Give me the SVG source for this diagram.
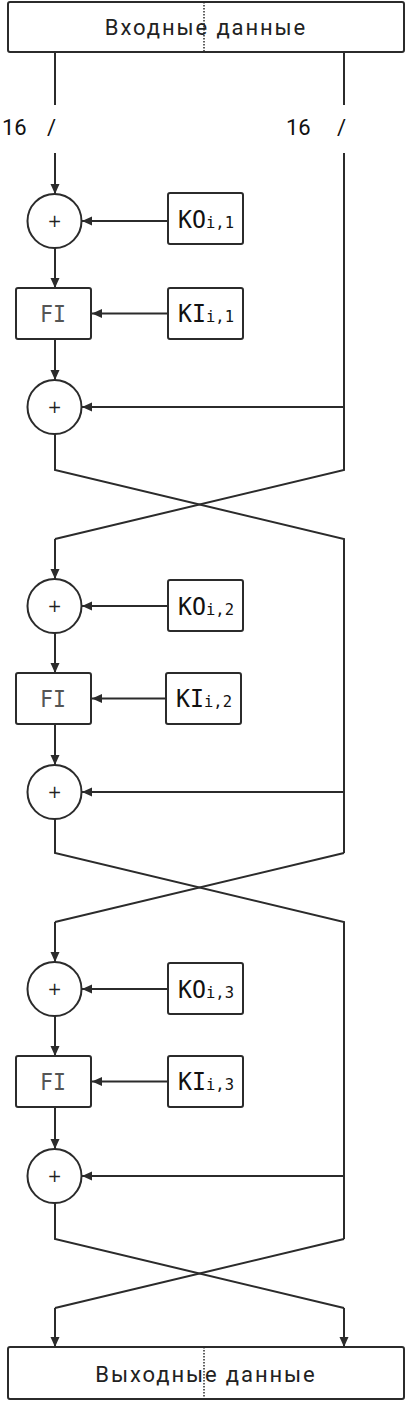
<svg xmlns="http://www.w3.org/2000/svg" width="405" height="1401" viewBox="0 0 405 1401">
<style>
.box{fill:#fff;stroke:#2b2b2b;stroke-width:2}
.circ{fill:#fff;stroke:#2b2b2b;stroke-width:2}
.ln{fill:none;stroke:#2b2b2b;stroke-width:2}
.arr{fill:none;stroke:#2b2b2b;stroke-width:2;marker-end:url(#ah)}
.dot{stroke:#2b2b2b;stroke-width:1.5;stroke-dasharray:1.5 1.5}
.big{font-family:"Roboto","Liberation Sans",sans-serif;font-size:22px;fill:#222;letter-spacing:1.9px}
.num{font-family:"Roboto","Liberation Sans",sans-serif;font-size:22px;fill:#111}
.key{font-family:"DejaVu Sans Mono","Liberation Mono",monospace;font-size:24px;fill:#111}
.sub{font-size:16px}
.fi{font-family:"DejaVu Sans Mono","Liberation Mono",monospace;font-size:23px;fill:#555}
.plus{font-family:"DejaVu Sans","Liberation Sans",sans-serif;font-size:17px;fill:#222}
</style>
<defs>
<marker id="ah" markerWidth="11" markerHeight="10" refX="10" refY="5" orient="auto" markerUnits="userSpaceOnUse">
<path d="M0,0.5 L10,5 L0,9.5 z" fill="#2b2b2b"/>
</marker>
</defs>

<g id="connectors">
<line class="ln" x1="55" y1="52" x2="55" y2="105"/>
<line class="ln" x1="344" y1="52" x2="344" y2="105"/>
<line class="arr" x1="55" y1="153" x2="55" y2="194"/>
<line class="arr" x1="168" y1="221" x2="82" y2="221"/>
<line class="arr" x1="55" y1="248" x2="55" y2="288"/>
<line class="arr" x1="168" y1="313.5" x2="92" y2="313.5"/>
<line class="arr" x1="55" y1="339" x2="55" y2="380"/>
<line class="arr" x1="344" y1="407" x2="82" y2="407"/>
<polyline class="ln" points="344,153 344,470 55,539"/>
<polyline class="ln" points="55,434 55,470 344,539 344,853"/>
<line class="arr" x1="55" y1="539" x2="55" y2="579"/>
<line class="arr" x1="168" y1="606" x2="82" y2="606"/>
<line class="arr" x1="55" y1="633" x2="55" y2="673"/>
<line class="arr" x1="166" y1="698.5" x2="92" y2="698.5"/>
<line class="arr" x1="55" y1="724" x2="55" y2="765"/>
<line class="arr" x1="344" y1="792" x2="82" y2="792"/>
<polyline class="ln" points="344,853 55,922"/>
<polyline class="ln" points="55,819 55,853 344,922 344,1239"/>
<line class="arr" x1="55" y1="922" x2="55" y2="962"/>
<line class="arr" x1="168" y1="989" x2="82" y2="989"/>
<line class="arr" x1="55" y1="1016" x2="55" y2="1056"/>
<line class="arr" x1="168" y1="1081.5" x2="92" y2="1081.5"/>
<line class="arr" x1="55" y1="1107" x2="55" y2="1149"/>
<line class="arr" x1="344" y1="1176" x2="82" y2="1176"/>
<polyline class="ln" points="344,1239 55,1308"/>
<polyline class="ln" points="55,1203 55,1239 344,1308"/>
<line class="arr" x1="55" y1="1308" x2="55" y2="1347"/>
<line class="arr" x1="344" y1="1308" x2="344" y2="1347"/>
</g>

<g id="input">
<rect class="box" x="8" y="2" width="396" height="50" rx="2"/>
<text class="big" x="206" y="35" text-anchor="middle">Входные данные</text>
<line class="dot" x1="204" y1="2" x2="204" y2="52"/>
</g>

<g id="width-left">
<text class="num" x="2" y="135">16<tspan x="47">/</tspan></text>
</g>
<g id="width-right">
<text class="num" x="286" y="135">16<tspan x="337">/</tspan></text>
</g>

<g id="xor1a"><circle class="circ" cx="54.5" cy="221" r="27"/><text class="plus" x="54.5" y="227" text-anchor="middle">+</text></g>
<g id="ko1"><rect class="box" x="168" y="193" width="75" height="51" rx="2"/><text class="key" x="178" y="228" textLength="56" lengthAdjust="spacingAndGlyphs">KO<tspan class="sub">i,1</tspan></text></g>
<g id="fi1"><rect class="box" x="16" y="288" width="75" height="51" rx="2"/><text class="fi" x="40" y="322" textLength="26" lengthAdjust="spacingAndGlyphs">FI</text></g>
<g id="ki1"><rect class="box" x="168" y="288" width="75" height="51" rx="2"/><text class="key" x="178" y="322" textLength="56" lengthAdjust="spacingAndGlyphs">KI<tspan class="sub">i,1</tspan></text></g>
<g id="xor1b"><circle class="circ" cx="54.5" cy="407" r="27"/><text class="plus" x="54.5" y="413" text-anchor="middle">+</text></g>

<g id="xor2a"><circle class="circ" cx="54.5" cy="606" r="27"/><text class="plus" x="54.5" y="612" text-anchor="middle">+</text></g>
<g id="ko2"><rect class="box" x="168" y="580" width="75" height="51" rx="2"/><text class="key" x="178" y="615" textLength="56" lengthAdjust="spacingAndGlyphs">KO<tspan class="sub">i,2</tspan></text></g>
<g id="fi2"><rect class="box" x="16" y="673" width="75" height="51" rx="2"/><text class="fi" x="40" y="707" textLength="26" lengthAdjust="spacingAndGlyphs">FI</text></g>
<g id="ki2"><rect class="box" x="166" y="673" width="75" height="51" rx="2"/><text class="key" x="176" y="707" textLength="56" lengthAdjust="spacingAndGlyphs">KI<tspan class="sub">i,2</tspan></text></g>
<g id="xor2b"><circle class="circ" cx="54.5" cy="792" r="27"/><text class="plus" x="54.5" y="798" text-anchor="middle">+</text></g>

<g id="xor3a"><circle class="circ" cx="54.5" cy="989" r="27"/><text class="plus" x="54.5" y="995" text-anchor="middle">+</text></g>
<g id="ko3"><rect class="box" x="168" y="963" width="75" height="51" rx="2"/><text class="key" x="178" y="998" textLength="56" lengthAdjust="spacingAndGlyphs">KO<tspan class="sub">i,3</tspan></text></g>
<g id="fi3"><rect class="box" x="16" y="1056" width="75" height="51" rx="2"/><text class="fi" x="40" y="1090" textLength="26" lengthAdjust="spacingAndGlyphs">FI</text></g>
<g id="ki3"><rect class="box" x="168" y="1056" width="75" height="51" rx="2"/><text class="key" x="178" y="1090" textLength="56" lengthAdjust="spacingAndGlyphs">KI<tspan class="sub">i,3</tspan></text></g>
<g id="xor3b"><circle class="circ" cx="54.5" cy="1176" r="27"/><text class="plus" x="54.5" y="1182" text-anchor="middle">+</text></g>

<g id="output">
<rect class="box" x="8" y="1347" width="396" height="52" rx="2"/>
<text class="big" x="206" y="1382" text-anchor="middle">Выходные данные</text>
<line class="dot" x1="204" y1="1347" x2="204" y2="1399"/>
</g>
</svg>
